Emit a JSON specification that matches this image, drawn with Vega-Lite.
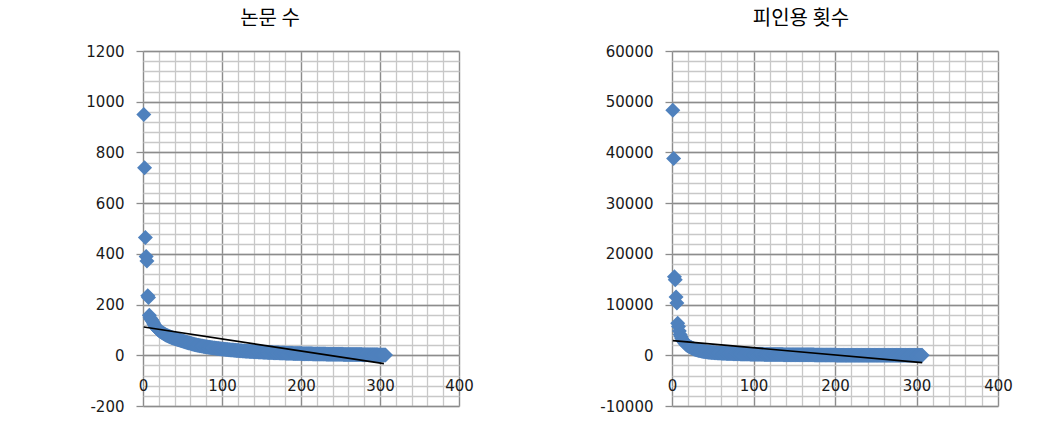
{
"$schema": "https://vega.github.io/schema/vega-lite/v6.json",
"background": "white",
"padding": {"left": 85, "top": 9, "right": 5, "bottom": 5},
"bounds": "flush",
"spacing": 213,
"data": {"values": [
{"rank":1,"papers":950,"citations":48300},{"rank":2,"papers":740,"citations":38800},{"rank":3,"papers":465,"citations":15500},{"rank":4,"papers":390,"citations":14900},{"rank":5,"papers":372,"citations":11500},{"rank":6,"papers":235,"citations":10300},{"rank":7,"papers":228,"citations":6300},{"rank":8,"papers":158,"citations":5700},{"rank":9,"papers":148,"citations":4800},{"rank":10,"papers":142,"citations":4100},
{"rank":11,"papers":140,"citations":3700},{"rank":12,"papers":134,"citations":3300},{"rank":13,"papers":128,"citations":3000},{"rank":14,"papers":122,"citations":2750},{"rank":15,"papers":117,"citations":2550},{"rank":16,"papers":113,"citations":2350},{"rank":17,"papers":109,"citations":2200},{"rank":18,"papers":105,"citations":2050},{"rank":19,"papers":102,"citations":1950},{"rank":20,"papers":99,"citations":1850},
{"rank":21,"papers":96,"citations":1750},{"rank":22,"papers":94,"citations":1650},{"rank":23,"papers":92,"citations":1560},{"rank":24,"papers":90,"citations":1480},{"rank":25,"papers":88,"citations":1400},{"rank":26,"papers":86,"citations":1330},{"rank":27,"papers":84,"citations":1260},{"rank":28,"papers":82,"citations":1200},{"rank":29,"papers":80,"citations":1150},{"rank":30,"papers":79,"citations":1100},
{"rank":31,"papers":77,"citations":1050},{"rank":32,"papers":76,"citations":1000},{"rank":33,"papers":74,"citations":960},{"rank":34,"papers":73,"citations":920},{"rank":35,"papers":72,"citations":880},{"rank":36,"papers":70,"citations":850},{"rank":37,"papers":69,"citations":820},{"rank":38,"papers":68,"citations":790},{"rank":39,"papers":67,"citations":760},{"rank":40,"papers":66,"citations":730},
{"rank":41,"papers":65,"citations":705},{"rank":42,"papers":64,"citations":680},{"rank":43,"papers":63,"citations":660},{"rank":44,"papers":62,"citations":640},{"rank":45,"papers":61,"citations":620},{"rank":46,"papers":60,"citations":600},{"rank":47,"papers":59,"citations":585},{"rank":48,"papers":58,"citations":570},{"rank":49,"papers":57,"citations":555},{"rank":50,"papers":56,"citations":540},
{"rank":51,"papers":55,"citations":525},{"rank":52,"papers":54,"citations":510},{"rank":53,"papers":53,"citations":500},{"rank":54,"papers":52,"citations":490},{"rank":55,"papers":51,"citations":480},{"rank":56,"papers":50,"citations":470},{"rank":57,"papers":49,"citations":460},{"rank":58,"papers":48,"citations":450},{"rank":59,"papers":48,"citations":440},{"rank":60,"papers":47,"citations":430},
{"rank":61,"papers":46,"citations":422},{"rank":62,"papers":45,"citations":414},{"rank":63,"papers":45,"citations":406},{"rank":64,"papers":44,"citations":398},{"rank":65,"papers":43,"citations":390},{"rank":66,"papers":42,"citations":382},{"rank":67,"papers":42,"citations":375},{"rank":68,"papers":41,"citations":368},{"rank":69,"papers":40,"citations":361},{"rank":70,"papers":40,"citations":354},
{"rank":71,"papers":39,"citations":348},{"rank":72,"papers":38,"citations":342},{"rank":73,"papers":38,"citations":336},{"rank":74,"papers":37,"citations":330},{"rank":75,"papers":37,"citations":324},{"rank":76,"papers":36,"citations":318},{"rank":77,"papers":35,"citations":312},{"rank":78,"papers":35,"citations":306},{"rank":79,"papers":34,"citations":300},{"rank":80,"papers":34,"citations":295},
{"rank":81,"papers":33,"citations":290},{"rank":82,"papers":33,"citations":285},{"rank":83,"papers":32,"citations":280},{"rank":84,"papers":32,"citations":275},{"rank":85,"papers":31,"citations":270},{"rank":86,"papers":31,"citations":266},{"rank":87,"papers":30,"citations":262},{"rank":88,"papers":30,"citations":258},{"rank":89,"papers":29,"citations":254},{"rank":90,"papers":29,"citations":250},
{"rank":91,"papers":29,"citations":246},{"rank":92,"papers":28,"citations":242},{"rank":93,"papers":28,"citations":238},{"rank":94,"papers":27,"citations":234},{"rank":95,"papers":27,"citations":230},{"rank":96,"papers":27,"citations":227},{"rank":97,"papers":26,"citations":224},{"rank":98,"papers":26,"citations":221},{"rank":99,"papers":25,"citations":218},{"rank":100,"papers":25,"citations":215},
{"rank":101,"papers":25,"citations":212},{"rank":102,"papers":24,"citations":209},{"rank":103,"papers":24,"citations":206},{"rank":104,"papers":24,"citations":203},{"rank":105,"papers":23,"citations":200},{"rank":106,"papers":23,"citations":197},{"rank":107,"papers":23,"citations":194},{"rank":108,"papers":22,"citations":191},{"rank":109,"papers":22,"citations":188},{"rank":110,"papers":22,"citations":185},
{"rank":111,"papers":21,"citations":182},{"rank":112,"papers":21,"citations":180},{"rank":113,"papers":21,"citations":178},{"rank":114,"papers":21,"citations":176},{"rank":115,"papers":20,"citations":174},{"rank":116,"papers":20,"citations":172},{"rank":117,"papers":20,"citations":170},{"rank":118,"papers":19,"citations":168},{"rank":119,"papers":19,"citations":166},{"rank":120,"papers":19,"citations":164},
{"rank":121,"papers":19,"citations":162},{"rank":122,"papers":18,"citations":160},{"rank":123,"papers":18,"citations":158},{"rank":124,"papers":18,"citations":156},{"rank":125,"papers":18,"citations":154},{"rank":126,"papers":17,"citations":152},{"rank":127,"papers":17,"citations":150},{"rank":128,"papers":17,"citations":148},{"rank":129,"papers":17,"citations":146},{"rank":130,"papers":16,"citations":144},
{"rank":131,"papers":16,"citations":142},{"rank":132,"papers":16,"citations":140},{"rank":133,"papers":16,"citations":138},{"rank":134,"papers":16,"citations":136},{"rank":135,"papers":15,"citations":134},{"rank":136,"papers":15,"citations":132},{"rank":137,"papers":15,"citations":130},{"rank":138,"papers":15,"citations":128},{"rank":139,"papers":15,"citations":126},{"rank":140,"papers":14,"citations":124},
{"rank":141,"papers":14,"citations":122},{"rank":142,"papers":14,"citations":120},{"rank":143,"papers":14,"citations":118},{"rank":144,"papers":14,"citations":117},{"rank":145,"papers":14,"citations":116},{"rank":146,"papers":13,"citations":115},{"rank":147,"papers":13,"citations":114},{"rank":148,"papers":13,"citations":113},{"rank":149,"papers":13,"citations":112},{"rank":150,"papers":13,"citations":111},
{"rank":151,"papers":13,"citations":110},{"rank":152,"papers":12,"citations":109},{"rank":153,"papers":12,"citations":108},{"rank":154,"papers":12,"citations":107},{"rank":155,"papers":12,"citations":106},{"rank":156,"papers":12,"citations":105},{"rank":157,"papers":12,"citations":104},{"rank":158,"papers":11,"citations":103},{"rank":159,"papers":11,"citations":102},{"rank":160,"papers":11,"citations":101},
{"rank":161,"papers":11,"citations":100},{"rank":162,"papers":11,"citations":99},{"rank":163,"papers":11,"citations":98},{"rank":164,"papers":11,"citations":97},{"rank":165,"papers":10,"citations":96},{"rank":166,"papers":10,"citations":95},{"rank":167,"papers":10,"citations":94},{"rank":168,"papers":10,"citations":93},{"rank":169,"papers":10,"citations":92},{"rank":170,"papers":10,"citations":91},
{"rank":171,"papers":10,"citations":90},{"rank":172,"papers":10,"citations":88},{"rank":173,"papers":9,"citations":86},{"rank":174,"papers":9,"citations":83},{"rank":175,"papers":9,"citations":80},{"rank":176,"papers":9,"citations":76},{"rank":177,"papers":9,"citations":72},{"rank":178,"papers":9,"citations":68},{"rank":179,"papers":9,"citations":64},{"rank":180,"papers":9,"citations":60},
{"rank":181,"papers":8,"citations":52},{"rank":182,"papers":8,"citations":51},{"rank":183,"papers":8,"citations":50},{"rank":184,"papers":8,"citations":49},{"rank":185,"papers":8,"citations":48},{"rank":186,"papers":8,"citations":47},{"rank":187,"papers":8,"citations":46},{"rank":188,"papers":8,"citations":45},{"rank":189,"papers":8,"citations":44},{"rank":190,"papers":7,"citations":43},
{"rank":191,"papers":7,"citations":42},{"rank":192,"papers":7,"citations":41},{"rank":193,"papers":7,"citations":40},{"rank":194,"papers":7,"citations":39},{"rank":195,"papers":7,"citations":38},{"rank":196,"papers":7,"citations":37},{"rank":197,"papers":7,"citations":36},{"rank":198,"papers":7,"citations":35},{"rank":199,"papers":7,"citations":34},{"rank":200,"papers":7,"citations":33},
{"rank":201,"papers":6,"citations":32},{"rank":202,"papers":6,"citations":31},{"rank":203,"papers":6,"citations":30},{"rank":204,"papers":6,"citations":30},{"rank":205,"papers":6,"citations":29},{"rank":206,"papers":6,"citations":29},{"rank":207,"papers":6,"citations":28},{"rank":208,"papers":6,"citations":28},{"rank":209,"papers":6,"citations":27},{"rank":210,"papers":6,"citations":27},
{"rank":211,"papers":6,"citations":26},{"rank":212,"papers":6,"citations":26},{"rank":213,"papers":6,"citations":25},{"rank":214,"papers":6,"citations":25},{"rank":215,"papers":5,"citations":24},{"rank":216,"papers":5,"citations":24},{"rank":217,"papers":5,"citations":23},{"rank":218,"papers":5,"citations":23},{"rank":219,"papers":5,"citations":22},{"rank":220,"papers":5,"citations":22},
{"rank":221,"papers":5,"citations":21},{"rank":222,"papers":5,"citations":21},{"rank":223,"papers":5,"citations":20},{"rank":224,"papers":5,"citations":20},{"rank":225,"papers":5,"citations":19},{"rank":226,"papers":5,"citations":19},{"rank":227,"papers":5,"citations":18},{"rank":228,"papers":5,"citations":18},{"rank":229,"papers":5,"citations":17},{"rank":230,"papers":5,"citations":17},
{"rank":231,"papers":5,"citations":16},{"rank":232,"papers":4,"citations":16},{"rank":233,"papers":4,"citations":15},{"rank":234,"papers":4,"citations":15},{"rank":235,"papers":4,"citations":15},{"rank":236,"papers":4,"citations":14},{"rank":237,"papers":4,"citations":14},{"rank":238,"papers":4,"citations":14},{"rank":239,"papers":4,"citations":13},{"rank":240,"papers":4,"citations":13},
{"rank":241,"papers":4,"citations":13},{"rank":242,"papers":4,"citations":12},{"rank":243,"papers":4,"citations":12},{"rank":244,"papers":4,"citations":12},{"rank":245,"papers":4,"citations":11},{"rank":246,"papers":4,"citations":11},{"rank":247,"papers":4,"citations":11},{"rank":248,"papers":4,"citations":10},{"rank":249,"papers":4,"citations":10},{"rank":250,"papers":4,"citations":10},
{"rank":251,"papers":4,"citations":10},{"rank":252,"papers":4,"citations":9},{"rank":253,"papers":4,"citations":9},{"rank":254,"papers":3,"citations":9},{"rank":255,"papers":3,"citations":9},{"rank":256,"papers":3,"citations":8},{"rank":257,"papers":3,"citations":8},{"rank":258,"papers":3,"citations":8},{"rank":259,"papers":3,"citations":8},{"rank":260,"papers":3,"citations":7},
{"rank":261,"papers":3,"citations":7},{"rank":262,"papers":3,"citations":7},{"rank":263,"papers":3,"citations":7},{"rank":264,"papers":3,"citations":6},{"rank":265,"papers":3,"citations":6},{"rank":266,"papers":3,"citations":6},{"rank":267,"papers":3,"citations":6},{"rank":268,"papers":3,"citations":6},{"rank":269,"papers":3,"citations":5},{"rank":270,"papers":3,"citations":5},
{"rank":271,"papers":3,"citations":5},{"rank":272,"papers":3,"citations":5},{"rank":273,"papers":3,"citations":5},{"rank":274,"papers":3,"citations":4},{"rank":275,"papers":3,"citations":4},{"rank":276,"papers":3,"citations":4},{"rank":277,"papers":3,"citations":4},{"rank":278,"papers":2,"citations":4},{"rank":279,"papers":2,"citations":3},{"rank":280,"papers":2,"citations":3},
{"rank":281,"papers":2,"citations":3},{"rank":282,"papers":2,"citations":3},{"rank":283,"papers":2,"citations":3},{"rank":284,"papers":2,"citations":3},{"rank":285,"papers":2,"citations":2},{"rank":286,"papers":2,"citations":2},{"rank":287,"papers":2,"citations":2},{"rank":288,"papers":2,"citations":2},{"rank":289,"papers":2,"citations":2},{"rank":290,"papers":2,"citations":2},
{"rank":291,"papers":2,"citations":1},{"rank":292,"papers":2,"citations":1},{"rank":293,"papers":2,"citations":1},{"rank":294,"papers":2,"citations":1},{"rank":295,"papers":2,"citations":1},{"rank":296,"papers":2,"citations":1},{"rank":297,"papers":2,"citations":1},{"rank":298,"papers":1,"citations":1},{"rank":299,"papers":1,"citations":0},{"rank":300,"papers":1,"citations":0},
{"rank":301,"papers":1,"citations":0},{"rank":302,"papers":1,"citations":0},{"rank":303,"papers":1,"citations":0},{"rank":304,"papers":1,"citations":0},{"rank":305,"papers":1,"citations":0},{"rank":306,"papers":1,"citations":0},{"rank":307,"papers":1,"citations":0}
]},
"config": {
  "view": {"stroke": null},
  "axis": {"labelFont": "DejaVu Sans", "labelFontSize": 15, "labelColor": "#1a1a1a", "domain": false, "title": null},
  "title": {"font": "Noto Sans CJK KR", "fontSize": 20, "fontWeight": "normal", "color": "#000000", "anchor": "middle"}
},
"hconcat": [
 {
  "width": 316, "height": 355,
  "title": {"text": "논문 수", "dx": -31, "offset": 15},
  "layer": [
   {"mark": {"type": "point", "opacity": 0},
    "encoding": {
     "x": {"field": "rank", "type": "quantitative", "scale": {"domain": [0, 400], "nice": false, "zero": false},
       "axis": {"orient": "bottom", "values": [0,20,40,60,80,100,120,140,160,180,200,220,240,260,280,300,320,340,360,380,400], "grid": true, "gridColor": "#C8C8C8", "gridWidth": 1.3, "labels": false, "ticks": false, "domain": false}},
     "y": {"field": "papers", "type": "quantitative", "scale": {"domain": [-200, 1200], "nice": false, "zero": false},
       "axis": {"orient": "left", "values": [-200,-160,-120,-80,-40,0,40,80,120,160,200,240,280,320,360,400,440,480,520,560,600,640,680,720,760,800,840,880,920,960,1000,1040,1080,1120,1160,1200], "grid": true, "gridColor": "#C8C8C8", "gridWidth": 1.3, "labels": false, "ticks": false, "domain": false}}
    }},
   {"mark": {"type": "point", "shape": "diamond", "filled": true, "size": 225, "color": "#4F81BD", "opacity": 1},
    "encoding": {
     "x": {"field": "rank", "type": "quantitative", "scale": {"domain": [0, 400], "nice": false, "zero": false},
       "axis": {"orient": "bottom", "values": [0,100,200,300,400], "grid": true, "gridColor": "#8C8C8C", "gridWidth": 1.3, "ticks": false, "tickSize": 0, "labelPadding": 0, "offset": -28, "labelFlush": false, "labelOverlap": false, "domain": false}},
     "y": {"field": "papers", "type": "quantitative", "scale": {"domain": [-200, 1200], "nice": false, "zero": false},
       "axis": {"orient": "left", "values": [-200,0,200,400,600,800,1000,1200], "grid": true, "gridColor": "#8C8C8C", "gridWidth": 1.3, "ticks": true, "tickSize": 7, "tickColor": "#8C8C8C", "tickWidth": 1.3, "labelPadding": 12, "labelExpr": "toString(datum.value)", "labelOverlap": false, "domain": false}}
    }},
   {"data": {"values": [{"rank": 1, "papers": 111.5}, {"rank": 305, "papers": -33}]},
    "mark": {"type": "line", "color": "#000000", "strokeWidth": 1.6},
    "encoding": {
     "x": {"field": "rank", "type": "quantitative", "scale": {"domain": [0, 400], "nice": false, "zero": false}, "axis": null},
     "y": {"field": "papers", "type": "quantitative", "scale": {"domain": [-200, 1200], "nice": false, "zero": false}, "axis": null}
    }}
  ],
  "resolve": {"axis": {"x": "independent", "y": "independent"}}
 },
 {
  "width": 326, "height": 355,
  "title": {"text": "피인용 횟수", "dx": -34, "offset": 15},
  "layer": [
   {"mark": {"type": "point", "opacity": 0},
    "encoding": {
     "x": {"field": "rank", "type": "quantitative", "scale": {"domain": [0, 400], "nice": false, "zero": false},
       "axis": {"orient": "bottom", "values": [0,20,40,60,80,100,120,140,160,180,200,220,240,260,280,300,320,340,360,380,400], "grid": true, "gridColor": "#C8C8C8", "gridWidth": 1.3, "labels": false, "ticks": false, "domain": false}},
     "y": {"field": "citations", "type": "quantitative", "scale": {"domain": [-10000, 60000], "nice": false, "zero": false},
       "axis": {"orient": "left", "values": [-10000,-8000,-6000,-4000,-2000,0,2000,4000,6000,8000,10000,12000,14000,16000,18000,20000,22000,24000,26000,28000,30000,32000,34000,36000,38000,40000,42000,44000,46000,48000,50000,52000,54000,56000,58000,60000], "grid": true, "gridColor": "#C8C8C8", "gridWidth": 1.3, "labels": false, "ticks": false, "domain": false}}
    }},
   {"mark": {"type": "point", "shape": "diamond", "filled": true, "size": 225, "color": "#4F81BD", "opacity": 1},
    "encoding": {
     "x": {"field": "rank", "type": "quantitative", "scale": {"domain": [0, 400], "nice": false, "zero": false},
       "axis": {"orient": "bottom", "values": [0,100,200,300,400], "grid": true, "gridColor": "#8C8C8C", "gridWidth": 1.3, "ticks": false, "tickSize": 0, "labelPadding": 0, "offset": -28, "labelFlush": false, "labelOverlap": false, "domain": false}},
     "y": {"field": "citations", "type": "quantitative", "scale": {"domain": [-10000, 60000], "nice": false, "zero": false},
       "axis": {"orient": "left", "values": [-10000,0,10000,20000,30000,40000,50000,60000], "grid": true, "gridColor": "#8C8C8C", "gridWidth": 1.3, "ticks": true, "tickSize": 7, "tickColor": "#8C8C8C", "tickWidth": 1.3, "labelPadding": 12, "labelExpr": "toString(datum.value)", "labelOverlap": false, "domain": false}}
    }},
   {"data": {"values": [{"rank": 1, "citations": 2900}, {"rank": 307, "citations": -1440}]},
    "mark": {"type": "line", "color": "#000000", "strokeWidth": 1.6},
    "encoding": {
     "x": {"field": "rank", "type": "quantitative", "scale": {"domain": [0, 400], "nice": false, "zero": false}, "axis": null},
     "y": {"field": "citations", "type": "quantitative", "scale": {"domain": [-10000, 60000], "nice": false, "zero": false}, "axis": null}
    }}
  ],
  "resolve": {"axis": {"x": "independent", "y": "independent"}}
 }
]
}
